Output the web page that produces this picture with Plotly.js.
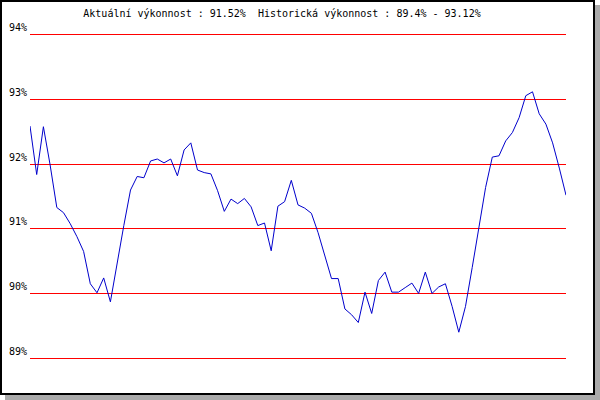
<!DOCTYPE html>
<html>
<head>
<meta charset="utf-8">
<script src="https://cdn.plot.ly/plotly-3.0.1.min.js"></script>
<style>
  html, body { margin: 0; padding: 0; background: #ffffff; }
  #frame {
    position: absolute; left: 0; top: 0;
    width: 591px; height: 391px;
    border: 2px solid #000000;
    box-shadow: 5px 5px 0 #aaaaaa;
    background: #ffffff;
  }
  #chart { position: absolute; left: 0; top: 0; width: 600px; height: 400px; }
</style>
</head>
<body>
<div id="frame"></div>
<div id="chart"></div>
<script>
// Performance values (%), one per sample
const values = [
  92.59, 91.84, 92.58, 91.99, 91.33, 91.25, 91.08, 90.88, 90.65, 90.15,
  90.01, 90.24, 89.87, 90.48, 91.05, 91.60, 91.81, 91.79, 92.05, 92.08,
  92.02, 92.08, 91.82, 92.22, 92.33, 91.91, 91.87, 91.85, 91.59, 91.27,
  91.46, 91.39, 91.47, 91.34, 91.05, 91.09, 90.66, 91.35, 91.42, 91.75,
  91.37, 91.32, 91.24, 90.94, 90.60, 90.23, 90.23, 89.76, 89.67, 89.55,
  90.02, 89.69, 90.20, 90.33, 90.02, 90.02, 90.09, 90.16, 90.00, 90.33,
  90.00, 90.10, 90.15, 89.80, 89.40, 89.80, 90.40, 91.02, 91.64, 92.11,
  92.13, 92.36, 92.49, 92.72, 93.06, 93.12, 92.78, 92.62, 92.33, 91.94,
  91.52
];
const samples = values.map((v, i) => i);
const tickValues = [89, 90, 91, 92, 93, 94];
const tickLabels = ['89%', '90%', '91%', '92%', '93%', '94%'];
const currentPerf = '91.52%';
const histMin = '89.4%';
const histMax = '93.12%';

const titleText = 'Aktuální výkonnost : ' + currentPerf + '\u00a0 Historická výkonnost : ' + histMin + ' - ' + histMax;

const font = { family: '"DejaVu Sans Mono", "Liberation Mono", monospace', size: 10, color: '#000000' };

Plotly.newPlot('chart', [{
  x: samples,
  y: values,
  type: 'scatter',
  mode: 'lines',
  line: { color: '#0000cc', width: 1 },
  hoverinfo: 'skip'
}], {
  width: 600,
  height: 400,
  paper_bgcolor: 'rgba(0,0,0,0)',
  plot_bgcolor: 'rgba(0,0,0,0)',
  margin: { l: 30, r: 34, t: 33, b: 40, pad: 0 },
  showlegend: false,
  font: font,
  title: {
    text: titleText,
    font: font,
    xref: 'container', x: 282 / 600, xanchor: 'center',
    yref: 'container', y: 1 - 13 / 400, yanchor: 'middle'
  },
  xaxis: {
    range: [0, samples.length - 1],
    showgrid: false, zeroline: false, showline: false,
    showticklabels: false, ticks: ''
  },
  yaxis: {
    range: [88.97, 94.03],
    tickvals: tickValues,
    ticktext: tickLabels,
    showgrid: true, gridcolor: '#ff0000', gridwidth: 1,
    zeroline: false, showline: false, ticks: '',
    tickfont: font,
    ticklabelshift: -7,
    ticklabelstandoff: 2
  }
}, { staticPlot: true, displayModeBar: false });
</script>
</body>
</html>
